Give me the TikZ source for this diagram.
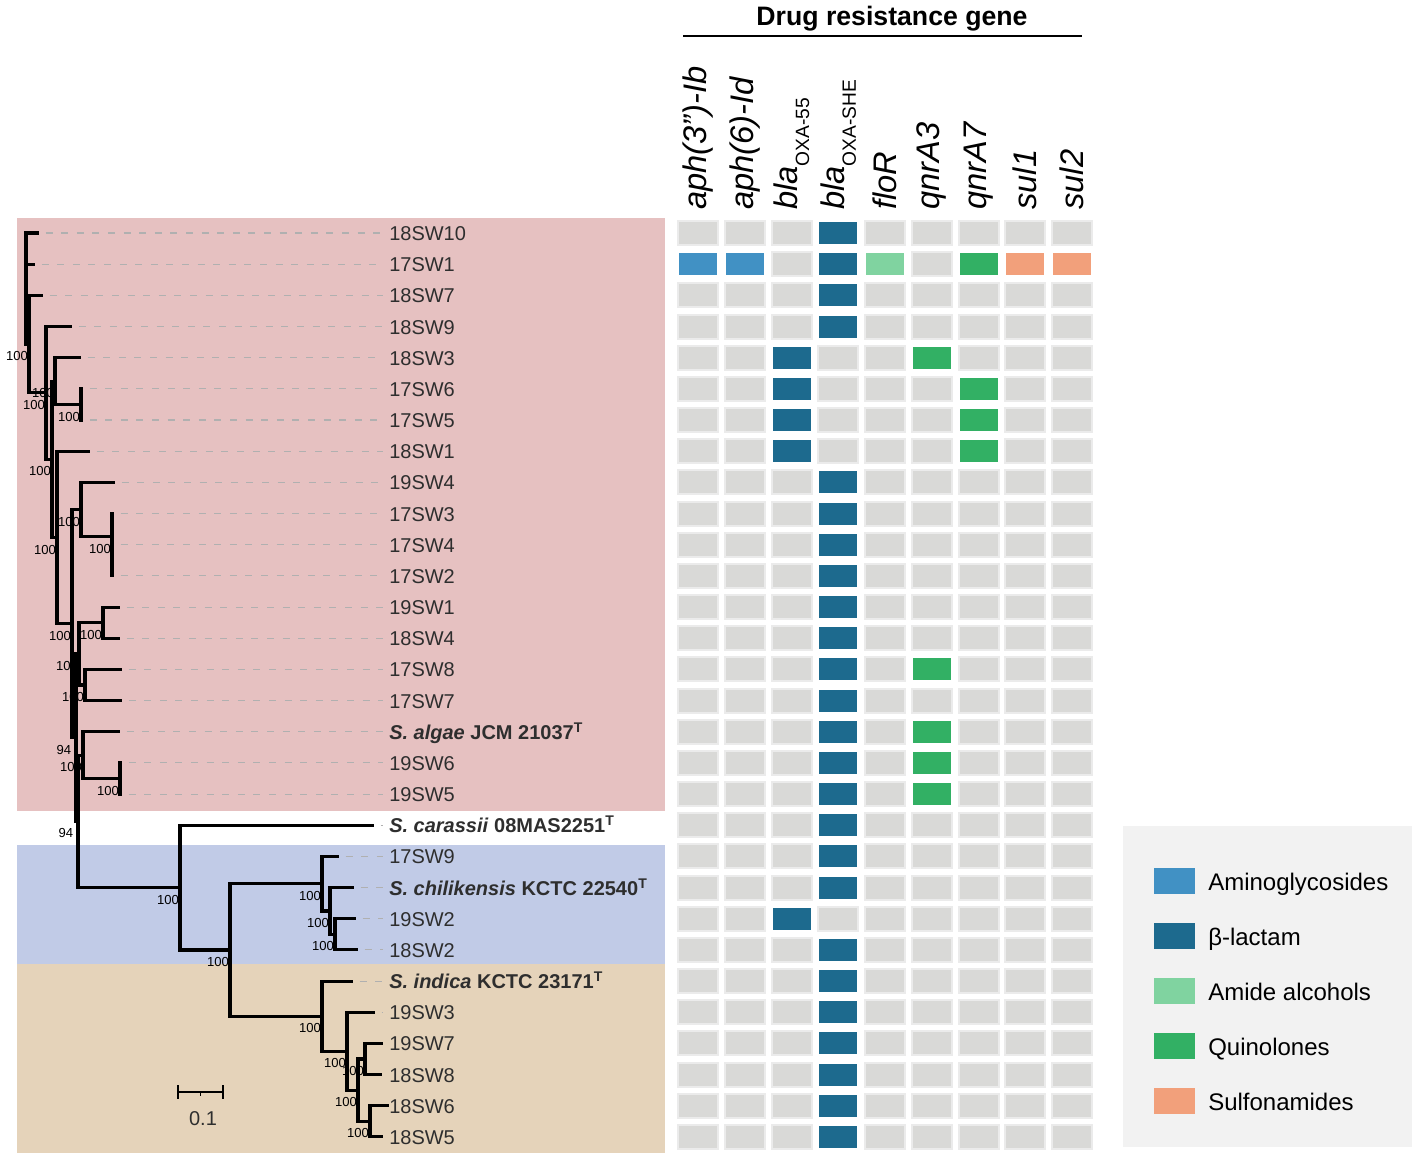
\documentclass[tikz,border=0pt]{standalone}
\usepackage{fontspec}
\setmainfont{Liberation Sans}
\definecolor{pinkbg}{HTML}{E6C1C1}
\definecolor{bluebg}{HTML}{C1CBE7}
\definecolor{tanbg}{HTML}{E5D3BA}
\definecolor{hmg}{HTML}{D9D9D7}
\definecolor{hma}{HTML}{4191C4}
\definecolor{hmb}{HTML}{1D6A8E}
\definecolor{hmm}{HTML}{80D3A0}
\definecolor{hmq}{HTML}{32B064}
\definecolor{hms}{HTML}{F2A07B}
\definecolor{frg}{HTML}{EBEBEB}
\colorlet{fra}{white}\colorlet{frb}{white}\colorlet{frm}{white}\colorlet{frq}{white}\colorlet{frs}{white}
\definecolor{legbg}{HTML}{F2F2F2}
\definecolor{dashgray}{HTML}{B0B0B0}
\definecolor{labtext}{HTML}{2E2E2E}
\newcommand\blasub[1]{bla\raisebox{-0.36em}{\fontsize{14.4}{16}\selectfont\upshape #1}}
\begin{document}
\begin{tikzpicture}[x=0.75pt,y=-0.75pt,
  treeline/.style={line width=2.3pt, line cap=rect, line join=miter},
  leader/.style={dashgray, line width=0.8pt, dash pattern=on 5.2pt off 6.5pt, dash phase=5.2pt},
  tiplab/.style={anchor=base west, inner sep=0pt, text=labtext, font=\fontsize{15}{18}\selectfont},
  boot/.style={inner sep=0pt, font=\fontsize{9.8}{11}\selectfont},
  hdr/.style={rotate=90, anchor=west, inner sep=0pt, font=\fontsize{24.5}{28}\selectfont\itshape},
  legtxt/.style={anchor=base west, inner sep=0pt, font=\fontsize{18}{22}\selectfont}]
\useasboundingbox (0,0) rectangle (1418,1160);
% clade bands
\fill[pinkbg] (17,218) rectangle (665,811);
\fill[bluebg] (17,845) rectangle (665,964);
\fill[tanbg] (17,964) rectangle (665,1153);
% tips
\foreach \r/\tx in {1/37,2/33,3/41,4/70,5/79,6/81,7/81,8/88,9/113,10/112,11/112,12/112,13/118,14/118,15/120,16/120,17/118,18/120,19/120,20/372,21/337,22/352,23/354,24/356,25/351,26/373,27/381,28/380,29/387,30/381}{
  \coordinate (t\r) at (\tx,{233+(\r-1)*31.17});
  \coordinate (e\r) at (383,{233+(\r-1)*31.17});
}
% internal nodes
\coordinate (A) at (26,289);
\coordinate (B) at (29,344.1);
\coordinate (C) at (46,392.9);
\coordinate (D) at (55,381.1);
\coordinate (E) at (52,459.3);
\coordinate (F) at (81,404.5);
\coordinate (G) at (57,537.5);
\coordinate (H) at (72,623.7);
\coordinate (I) at (81,509.7);
\coordinate (J) at (112,536.9);
\coordinate (J2) at (112,560.3);
\coordinate (L) at (103,622.6);
\coordinate (M) at (79,653.8);
\coordinate (N) at (85,685);
\coordinate (P) at (76,737.6);
\coordinate (Q) at (78,821.4);
\coordinate (R) at (83,755.1);
\coordinate (S) at (120,778.5);
\coordinate (T) at (180,887.6);
\coordinate (U) at (230,950);
\coordinate (V) at (322,883.7);
\coordinate (X) at (330,911);
\coordinate (Y) at (335,934.4);
\coordinate (W) at (322,1016.2);
\coordinate (Z) at (347,1051.3);
\coordinate (AA) at (358,1090.2);
\coordinate (BB) at (365,1059);
\coordinate (CC) at (370,1121.4);
% leaders
\foreach \r in {1,...,26}{\draw[leader] (t\r) -- (e\r);}
% bootstrap labels
\foreach \n/\v in {B/100,C/100,D/100,E/100,F/100,G/100,H/100,I/100,J/100,L/100,M/100,N/100,P/94,Q/94,R/100,S/100,T/100,U/100,V/100,X/100,Y/100,W/100,Z/100,AA/100,BB/100,CC/100}{
  \node[boot] (bs\n) at ([shift={(-12,12)}]\n) {\v};
}
% tree edges
\foreach \p/\c in {A/t1,A/t2,A/B,B/t3,B/C,C/t4,C/E,E/D,E/G,D/t5,D/F,F/t6,F/t7,G/t8,G/H,H/I,H/P,I/t9,I/J,J/t10,J/J2,J2/t11,J2/t12,P/M,P/Q,M/L,M/N,L/t13,L/t14,N/t15,N/t16,Q/R,Q/T,R/t17,R/S,S/t18,S/t19,T/t20,T/U,U/V,U/W,V/t21,V/X,X/t22,X/Y,Y/t23,Y/t24,W/t25,W/Z,Z/t26,Z/AA,AA/BB,AA/CC,BB/t27,BB/t28,CC/t29,CC/t30}{
  \draw[treeline] (\p) |- (\c);
}
% tip labels
\foreach \r/\txt in {1/18SW10,2/17SW1,3/18SW7,4/18SW9,5/18SW3,6/17SW6,7/17SW5,8/18SW1,9/19SW4,10/17SW3,11/17SW4,12/17SW2,13/19SW1,14/18SW4,15/17SW8,16/17SW7,18/19SW6,19/19SW5,21/17SW9,23/19SW2,24/18SW2,26/19SW3,27/19SW7,28/18SW8,29/18SW6,30/18SW5}{
  \node[tiplab] (lab\r) at (389,{233+(\r-1)*31.17+7.5}) {\txt};
}
\node[tiplab] (lab17) at (389,{233+16*31.17+7.5}) {\textbf{\textit{S. algae} JCM 21037\textsuperscript{T}}};
\node[tiplab] (lab20) at (389,{233+19*31.17+7.5}) {\textbf{\textit{S. carassii} 08MAS2251\textsuperscript{T}}};
\node[tiplab] (lab22) at (389,{233+21*31.17+7.5}) {\textbf{\textit{S. chilikensis} KCTC 22540\textsuperscript{T}}};
\node[tiplab] (lab25) at (389,{233+24*31.17+7.5}) {\textbf{\textit{S. indica} KCTC 23171\textsuperscript{T}}};
% scale bar
\coordinate (sb1) at (178,1092);
\coordinate (sb2) at (223,1092);
\draw[line width=1.5pt] (sb1) -- (sb2);
\draw[line width=1.5pt] (sb1) ++(0,-7) -- ++(0,14);
\draw[line width=1.5pt] (sb2) ++(0,-7) -- ++(0,14);
\draw[line width=1.2pt] (200.5,1092) -- ++(0,4);
\node[font=\fontsize{15}{18}\selectfont, text=labtext] (sblab) at (203,1119) {0.1};
% heatmap
\foreach \r/\codes in {
 1/{g,g,g,b,g,g,g,g,g}, 2/{a,a,g,b,m,g,q,s,s}, 3/{g,g,g,b,g,g,g,g,g}, 4/{g,g,g,b,g,g,g,g,g},
 5/{g,g,b,g,g,q,g,g,g}, 6/{g,g,b,g,g,g,q,g,g}, 7/{g,g,b,g,g,g,q,g,g}, 8/{g,g,b,g,g,g,q,g,g},
 9/{g,g,g,b,g,g,g,g,g}, 10/{g,g,g,b,g,g,g,g,g}, 11/{g,g,g,b,g,g,g,g,g}, 12/{g,g,g,b,g,g,g,g,g},
 13/{g,g,g,b,g,g,g,g,g}, 14/{g,g,g,b,g,g,g,g,g}, 15/{g,g,g,b,g,q,g,g,g}, 16/{g,g,g,b,g,g,g,g,g},
 17/{g,g,g,b,g,q,g,g,g}, 18/{g,g,g,b,g,q,g,g,g}, 19/{g,g,g,b,g,q,g,g,g}, 20/{g,g,g,b,g,g,g,g,g},
 21/{g,g,g,b,g,g,g,g,g}, 22/{g,g,g,b,g,g,g,g,g}, 23/{g,g,b,g,g,g,g,g,g}, 24/{g,g,g,b,g,g,g,g,g},
 25/{g,g,g,b,g,g,g,g,g}, 26/{g,g,g,b,g,g,g,g,g}, 27/{g,g,g,b,g,g,g,g,g}, 28/{g,g,g,b,g,g,g,g,g},
 29/{g,g,g,b,g,g,g,g,g}, 30/{g,g,g,b,g,g,g,g,g}}{
  \pgfmathsetmacro\yy{233+(\r-1)*31.17}
  \foreach \c [count=\i from 0] in \codes {
    \draw[fill=hm\c, draw=fr\c, line width=1.5pt] ({678+46.75*\i},{\yy-12}) rectangle ++(40,24);
  }
}
% headers
\node[hdr] (h0) at (698,210) {aph(3")-Ib};
\node[hdr] (h1) at (744.75,210) {aph(6)-Id};
\node[hdr] (h2) at (791.5,210) {\blasub{OXA-55}};
\node[hdr] (h3) at (838.25,210) {\blasub{OXA-SHE}};
\node[hdr] (h4) at (885,210) {floR};
\node[hdr] (h5) at (931.75,210) {qnrA3};
\node[hdr] (h6) at (978.5,210) {qnrA7};
\node[hdr] (h7) at (1025.25,210) {sul1};
\node[hdr] (h8) at (1072,210) {sul2};
% title
\node[font=\fontsize{20}{24}\selectfont\bfseries, inner sep=0pt] (title) at (892,19) {Drug resistance gene};
\coordinate (ul1) at (683,36);
\coordinate (ul2) at (1082,36);
\draw[line width=1.6pt] (ul1) -- (ul2);
% legend
\fill[legbg] (1123,826) rectangle (1412,1147);
\foreach \i/\col/\txt in {0/hma/Aminoglycosides,1/hmb/β-lactam,2/hmm/Amide alcohols,3/hmq/Quinolones,4/hms/Sulfonamides}{
  \fill[\col] (1154,{881+55*\i-13}) rectangle ++(41,26);
  \node[legtxt] (leg\i) at (1208,{881+55*\i+9.5}) {\txt};
}
\end{tikzpicture}
\end{document}
